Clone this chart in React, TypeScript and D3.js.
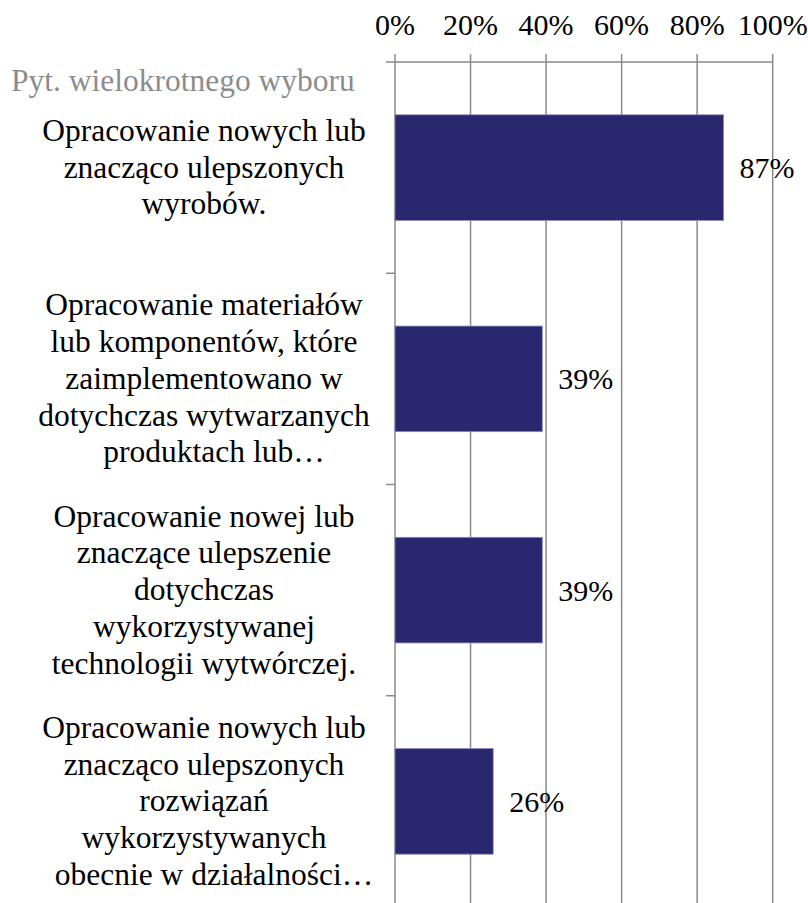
import React from "react";
import * as d3 from "d3";

const categories: string[][] = [
  ["Opracowanie nowych lub", "znacząco ulepszonych", "wyrobów."],
  ["Opracowanie materiałów", "lub komponentów, które", "zaimplementowano w", "dotychczas wytwarzanych", "produktach lub…"],
  ["Opracowanie nowej lub", "znaczące ulepszenie", "dotychczas", "wykorzystywanej", "technologii wytwórczej."],
  ["Opracowanie nowych lub", "znacząco ulepszonych", "rozwiązań", "wykorzystywanych", "obecnie w działalności…"],
];
const values: number[] = [87, 39, 39, 26];
const tickValues: number[] = [0, 20, 40, 60, 80, 100];
const axisTitle = "Pyt. wielokrotnego wyboru";

const W = 808;
const H = 903;
const FONT = '"Liberation Serif", Tinos, "Times New Roman", Times, "DejaVu Serif", serif';

export default function App() {
  const x = d3.scaleLinear().domain([0, 100]).range([395, 772.7]);
  const y = d3
    .scaleBand<number>()
    .domain(categories.map((_, i) => i))
    .range([62, 907])
    .paddingInner(0.5)
    .paddingOuter(0.25);
  const step = y.step();
  const bounds = d3.range(categories.length + 1).map((i) => 62 + i * step);
  const gridColor = "#8a8a8a";
  const lineH = 36.7;
  const ts = (size: number, fill: string) => ({ fontFamily: FONT, fontSize: size + "px", fill });

  return (
    <svg
      width={W}
      height={H}
      style={{ position: "absolute", left: 0, top: 0, background: "#fff", fontFamily: FONT }}
    >
      {tickValues.map((t) => (
        <line key={"g" + t} x1={x(t)} x2={x(t)} y1={54} y2={H} stroke={gridColor} strokeWidth={1.5} />
      ))}
      <line x1={386} x2={x(100)} y1={62} y2={62} stroke={gridColor} strokeWidth={1.5} />
      {bounds.slice(1).map((b, i) => (
        <line key={"c" + i} x1={386} x2={x(0)} y1={b} y2={b} stroke={gridColor} strokeWidth={1.5} />
      ))}
      {tickValues.map((t) => (
        <text key={"t" + t} x={x(t)} y={35} textAnchor="middle" style={ts(30, "#000")}>
          {t + "%"}
        </text>
      ))}
      <text x={11} y={91} style={ts(31.5, "#8c8c8c")}>
        {axisTitle}
      </text>
      {values.map((v, i) => (
        <rect
          key={"b" + i}
          x={x(0)}
          y={y(i)!}
          width={x(v) - x(0)}
          height={y.bandwidth()}
          fill="#29286f"
          stroke="#8a8ac0"
          strokeWidth={0.8}
        />
      ))}
      {values.map((v, i) => (
        <text
          key={"v" + i}
          x={x(v) + 16}
          y={y(i)! + y.bandwidth() / 2 + 10.5}
          style={ts(30, "#000")}
        >
          {v + "%"}
        </text>
      ))}
      {categories.map((lines, i) => {
        const c = y(i)! + y.bandwidth() / 2;
        return (
          <text key={"l" + i} textAnchor="middle" style={ts(31.5, "#000")}>
            {lines.map((ln, j) => (
              <tspan
                key={j}
                x={204 + (ln.endsWith("…") ? 10 : 0)}
                y={c + (j - (lines.length - 1) / 2) * lineH + 10}
              >
                {ln}
              </tspan>
            ))}
          </text>
        );
      })}
    </svg>
  );
}
